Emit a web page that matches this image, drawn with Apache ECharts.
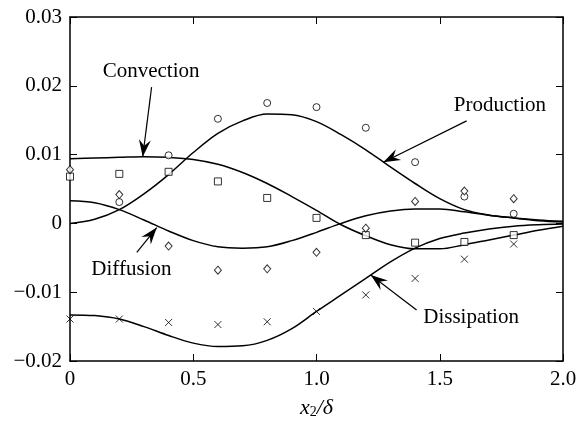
<!DOCTYPE html>
<html>
<head>
<meta charset="utf-8">
<script src="https://cdn.jsdelivr.net/npm/echarts@6/dist/echarts.min.js"></script>
<style>
  html, body { margin: 0; padding: 0; background: #fff; }
  #chart { width: 580px; height: 424px; }
</style>
</head>
<body>
<div id="chart"></div>
<script>
// curve abscissae (x2/delta)
const xCurve = [0, 0.1, 0.2, 0.3, 0.4, 0.5, 0.6, 0.7, 0.8, 0.9, 1.0,
  1.1, 1.2, 1.3, 1.4, 1.5, 1.6, 1.7, 1.8, 1.9, 2.0];

// model curves
const production = [0.0000, 0.0006, 0.0020, 0.0043, 0.0071, 0.0103, 0.0131, 0.0149, 0.0159, 0.0158, 0.0148,
  0.0129, 0.0107, 0.0082, 0.0058, 0.0036, 0.0020, 0.0012, 0.0008, 0.0005, 0.0003];
const convection = [0.0094, 0.0095, 0.0096, 0.0097, 0.0096, 0.0093, 0.0086, 0.0074, 0.0058, 0.0039, 0.0019,
  -0.0002, -0.0018, -0.0031, -0.0037, -0.0037, -0.0031, -0.0024, -0.0017, -0.0010, -0.0004];
const diffusion = [0.0033, 0.0030, 0.0020, 0.0005, -0.0011, -0.0025, -0.0034, -0.0036, -0.0034, -0.0025, -0.0013,
  0.0000, 0.0011, 0.0018, 0.0021, 0.0021, 0.0017, 0.0012, 0.0008, 0.0004, 0.0002];
const dissipation = [-0.0133, -0.0134, -0.0139, -0.0150, -0.0163, -0.0174, -0.0179, -0.0178, -0.0170, -0.0153, -0.0128,
  -0.0104, -0.0080, -0.0056, -0.0036, -0.0022, -0.0014, -0.0008, -0.0004, -0.0002, -0.0001];

// measured points
const xPts = [0, 0.2, 0.4, 0.6, 0.8, 1.0, 1.2, 1.4, 1.6, 1.8];
const xCircles = [0.2, 0.4, 0.6, 0.8, 1.0, 1.2, 1.4, 1.6, 1.8];
const circles = [0.0031, 0.0099, 0.0152, 0.0175, 0.0169, 0.0139, 0.0089, 0.0039, 0.0014];
const squares = [0.0068, 0.0072, 0.0075, 0.0061, 0.0037, 0.0008, -0.0017, -0.0028, -0.0027, -0.0017];
const diamonds = [0.0078, 0.0042, -0.0033, -0.0068, -0.0066, -0.0042, -0.0007, 0.0032, 0.0047, 0.0036];
const crosses = [-0.0139, -0.0139, -0.0144, -0.0147, -0.0143, -0.0128, -0.0104, -0.0080, -0.0052, -0.0030];

// labels: text position and arrow (from -> tip), in data units
const labels = ['Convection', 'Production', 'Diffusion', 'Dissipation'];
const labelAt = [[0.329, 0.0221], [1.744, 0.0172], [0.249, -0.0067], [1.627, -0.0137]];
const arrowFrom = [[0.331, 0.0198], [1.609, 0.0149], [0.271, -0.0042], [1.406, -0.0126]];
const arrowTip = [[0.295, 0.0097], [1.271, 0.0089], [0.352, -0.0006], [1.220, -0.0075]];

const FONT = 'Liberation Serif';
const pairs = (xs, ys) => xs.map((x, i) => [x, ys[i]]);

const chart = echarts.init(document.getElementById('chart'));

const curve = (data) => ({
  type: 'line', data: pairs(xCurve, data), smooth: 0.35, symbol: 'none',
  lineStyle: { color: '#000', width: 1.5 }, z: 3, silent: true
});
const marks = (xs, data, symbol, size) => ({
  type: 'scatter', data: pairs(xs, data), symbol: symbol, symbolSize: size,
  itemStyle: { color: symbol.indexOf('path') === 0 ? 'none' : '#fff', borderColor: '#000', borderWidth: 1 },
  z: 4, silent: true
});

const baseX = {
  type: 'value', min: 0, max: 2, interval: 0.5,
  axisLine: { onZero: false, lineStyle: { color: '#000', width: 1.5 } },
  axisTick: { inside: true, length: 7, lineStyle: { color: '#000', width: 1 } },
  splitLine: { show: false }
};
const baseY = {
  type: 'value', min: -0.02, max: 0.03, interval: 0.01,
  axisLine: { onZero: false, lineStyle: { color: '#000', width: 1.5 } },
  axisTick: { inside: true, length: 7, lineStyle: { color: '#000', width: 1 } },
  splitLine: { show: false }
};

chart.setOption({
  animation: false,
  backgroundColor: '#fff',
  grid: { left: 70, right: 17, top: 17, bottom: 62 },
  xAxis: [
    Object.assign({}, baseX, {
      position: 'bottom',
      axisLabel: {
        color: '#000', fontFamily: FONT, fontSize: 21, margin: 8,
        formatter: v => Math.abs(v) < 1e-9 ? '0' : v.toFixed(1)
      },
      name: '{i|x}{s|2}{i|/δ}', nameLocation: 'middle', nameGap: 36,
      nameTextStyle: {
        rich: {
          i: { fontFamily: FONT, fontStyle: 'italic', fontSize: 22, color: '#000' },
          s: { fontFamily: FONT, fontSize: 14, color: '#000', verticalAlign: 'bottom', padding: [8, 0, 0, 0] }
        }
      }
    }),
    Object.assign({}, baseX, { position: 'top', axisLabel: { show: false } })
  ],
  yAxis: [
    Object.assign({}, baseY, {
      position: 'left',
      axisLabel: {
        color: '#000', fontFamily: FONT, fontSize: 21, margin: 8,
        formatter: v => Math.abs(v) < 1e-9 ? '0' : (v < 0 ? '\u2212' : '') + Math.abs(v).toFixed(2)
      }
    }),
    Object.assign({}, baseY, { position: 'right', axisLabel: { show: false } })
  ],
  series: [
    curve(production),
    curve(convection),
    curve(diffusion),
    curve(dissipation),
    marks(xCircles, circles, 'circle', 7),
    marks(xPts, squares, 'rect', 7),
    marks(xPts, diamonds, 'diamond', [7, 8]),
    marks(xPts, crosses, 'path://M0,0L10,10M10,0L0,10', 7)
  ]
});

// annotation texts and arrows
function arrowHead(tip, from, len, half) {
  const dx = from[0] - tip[0], dy = from[1] - tip[1];
  const d = Math.hypot(dx, dy);
  const ux = dx / d, uy = dy / d, px = -uy, py = ux;
  const bx = tip[0] + ux * len, by = tip[1] + uy * len;
  const nx = tip[0] + ux * len * 0.65, ny = tip[1] + uy * len * 0.65;
  return [tip, [bx + px * half, by + py * half], [nx, ny], [bx - px * half, by - py * half]];
}

const graphic = [];
labels.forEach((t, i) => {
  const p = chart.convertToPixel({ xAxisIndex: 0, yAxisIndex: 0 }, labelAt[i]);
  const a = chart.convertToPixel({ xAxisIndex: 0, yAxisIndex: 0 }, arrowFrom[i]);
  const b = chart.convertToPixel({ xAxisIndex: 0, yAxisIndex: 0 }, arrowTip[i]);
  graphic.push({
    type: 'text', x: p[0], y: p[1], z: 10,
    style: { text: t, fill: '#000', font: '21px "' + FONT + '"', align: 'center', verticalAlign: 'middle' }
  });
  graphic.push({
    type: 'line', z: 10,
    shape: { x1: a[0], y1: a[1], x2: b[0], y2: b[1] },
    style: { stroke: '#000', lineWidth: 1.2 }
  });
  graphic.push({
    type: 'polygon', z: 10,
    shape: { points: arrowHead(b, a, 17, 6) },
    style: { fill: '#000' }
  });
});
chart.setOption({ graphic: graphic });
</script>
</body>
</html>
